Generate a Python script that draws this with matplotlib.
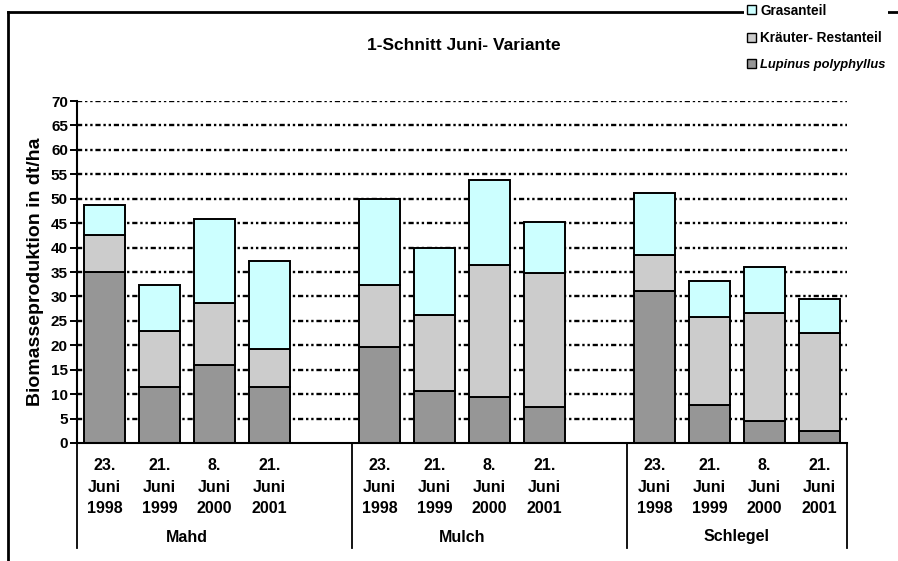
import numpy as np
import matplotlib
matplotlib.use("Agg")
import matplotlib.pyplot as plt
from matplotlib.patches import Patch
from matplotlib.lines import Line2D

plt.rcParams['font.family'] = ['Liberation Sans', 'DejaVu Sans']
plt.rcParams['font.weight'] = 'bold'
plt.rcParams['axes.labelweight'] = 'bold'

# data (dt/ha)
groups = ["Mahd", "Mulch", "Schlegel"]
dates = ["23.\nJuni\n1998", "21.\nJuni\n1999", "8.\nJuni\n2000", "21.\nJuni\n2001"]
lupinus = [35.0, 11.5, 16.0, 11.5, 19.7, 10.7, 9.4, 7.4, 31.2, 7.8, 4.5, 2.4]
kraeuter_top = [42.5, 22.9, 28.7, 19.3, 32.3, 26.1, 36.5, 34.8, 38.4, 25.8, 26.6, 22.5]
total = [48.7, 32.3, 45.8, 37.2, 49.9, 40.0, 53.9, 45.3, 51.1, 33.2, 36.0, 29.4]

kraeuter = [k - l for k, l in zip(kraeuter_top, lupinus)]
gras = [t - k for t, k in zip(total, kraeuter_top)]

col_lup = "#969696"
col_kr = "#cccccc"
col_gras = "#ccffff"

# 4 bars per group, one empty slot between groups
xpos = []
for g in range(len(groups)):
    xpos += [g * 5 + i for i in range(len(dates))]
xpos = np.array(xpos)

fig = plt.figure(figsize=(8.98, 5.61), dpi=100)
W, H = 898, 561
ax = fig.add_axes([77 / W, 1 - 443 / H, (847 - 77) / W, (443 - 101) / H])

# grid lines
for v in range(5, 75, 5):
    ax.axhline(v, color="black", lw=1.7, dashes=(2.2, 1.2, 1, 1.2, 1, 1.2), zorder=0)

bw = 0.76
ax.bar(xpos, lupinus, bw, color=col_lup, edgecolor="black", lw=1.4, zorder=2)
ax.bar(xpos, kraeuter, bw, bottom=lupinus, color=col_kr, edgecolor="black", lw=1.4, zorder=2)
ax.bar(xpos, gras, bw, bottom=kraeuter_top, color=col_gras, edgecolor="black", lw=1.4, zorder=2)

ax.set_xlim(-0.5, 13.5)
ax.set_ylim(0, 70)
ax.set_yticks(range(0, 75, 5))
ax.tick_params(axis="y", length=5, width=1.4, labelsize=11, pad=1.5)
ax.set_xticks(xpos)
ax.set_xticklabels(dates * len(groups), fontsize=11.5, linespacing=1.55)
ax.tick_params(axis="x", length=0, pad=11)

for s in ["top", "right"]:
    ax.spines[s].set_visible(False)
ax.spines["left"].set_linewidth(1.5)
ax.spines["bottom"].set_linewidth(1.5)

ax.set_ylabel("Biomasseproduktion in dt/ha", fontsize=14, labelpad=5)

# group separators and labels below the axis
low = -(548 - 443) / (443 - 101)
for xs in [-0.5, 4.5, 9.5, 13.5]:
    ax.plot([xs, xs], [0, low], transform=ax.get_xaxis_transform(),
            color="black", lw=1.3, clip_on=False)
for g, name in enumerate(groups):
    ax.text(g * 5 + 1.5, -(537 - 443) / (443 - 101), name, transform=ax.get_xaxis_transform(),
            ha="center", va="center", fontsize=11.5)

fig.text(464 / W, 1 - 45 / H, "1-Schnitt Juni- Variante", ha="center", va="center", fontsize=12.5)

# frame (top and left edges)
fig.add_artist(Line2D([8 / W, 1], [1 - 12 / H, 1 - 12 / H], color="black", lw=2, transform=fig.transFigure))
fig.add_artist(Line2D([8 / W, 8 / W], [0, 1 - 12 / H], color="black", lw=2, transform=fig.transFigure))

handles = [Patch(facecolor=col_gras, edgecolor="black"),
           Patch(facecolor=col_kr, edgecolor="black"),
           Patch(facecolor=col_lup, edgecolor="black")]
leg = fig.legend(handles, ["Grasanteil", "Kräuter- Restanteil", "Lupinus polyphyllus"],
                 loc="upper left", bbox_to_anchor=(744 / W, 1 - 1 / H), frameon=True,
                 edgecolor="none", facecolor="white", framealpha=1,
                 fontsize=9.8, handlelength=0.65, handleheight=0.65, handletextpad=0.35,
                 labelspacing=1.0, borderpad=0.2, borderaxespad=0)
leg.get_texts()[2].set_fontstyle("italic")
leg.get_texts()[2].set_fontsize(9.3)

fig.savefig("out.png", dpi=100)
